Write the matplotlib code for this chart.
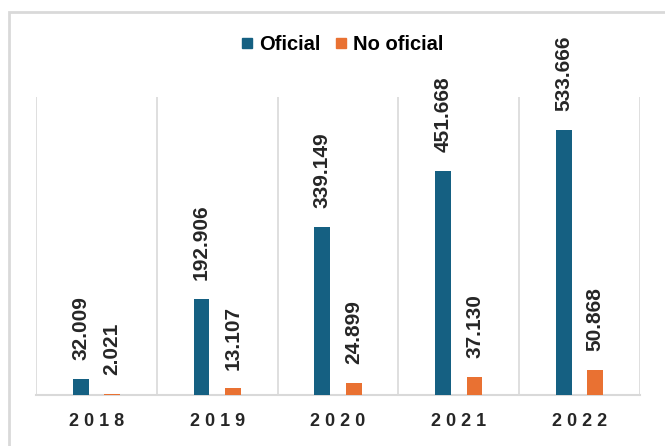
import matplotlib.pyplot as plt
import matplotlib.patches as patches
from matplotlib.lines import Line2D
import numpy as np

plt.rcParams['font.family'] = ['Liberation Sans', 'DejaVu Sans']

years = ['2018', '2019', '2020', '2021', '2022']
oficial = [32009, 192906, 339149, 451668, 533666]
no_oficial = [2021, 13107, 24899, 37130, 50868]

blue = '#156082'
orange = '#E97132'
grid = '#d9d9d9'

fig = plt.figure(figsize=(6.65, 4.46), dpi=100)
ax = fig.add_axes([36/665, 51/446, 604/665, 298/446])

x = np.arange(len(years))
w = 0.13
off = 0.13
ax.bar(x - off, oficial, w, color=blue, zorder=3)
ax.bar(x + off, no_oficial, w, color=orange, zorder=3)

def fmt(v):
    return f"{v:,}".replace(',', '.')

# etiquetas de datos, giradas
for xi, v in zip(x - off, oficial):
    ax.annotate(fmt(v), (xi, v), xytext=(0, 13.5), textcoords='offset points',
                rotation=90, ha='center', va='bottom', fontsize=15,
                fontweight='bold', color='#262626')
for xi, v in zip(x + off, no_oficial):
    ax.annotate(fmt(v), (xi, v), xytext=(0, 13.5), textcoords='offset points',
                rotation=90, ha='center', va='bottom', fontsize=15,
                fontweight='bold', color='#262626')

ax.set_xlim(-0.5, len(years) - 0.5)
ax.set_ylim(0, 600000)
for b in np.arange(-0.5, len(years), 1.0):
    ax.axvline(b, color=grid, lw=1.2, zorder=1)

for s in ['top', 'right', 'left']:
    ax.spines[s].set_visible(False)
ax.spines['bottom'].set_color(grid)
ax.spines['bottom'].set_linewidth(1.5)
ax.set_yticks([])
ax.set_xticks(x)
ax.set_xticklabels([' '.join(y) for y in years], fontsize=13, fontweight='bold',
                   color='#262626')
ax.tick_params(axis='x', length=0, pad=13)

handles = [Line2D([], [], marker='s', ls='', color=blue, markersize=6.5),
           Line2D([], [], marker='s', ls='', color=orange, markersize=6.5)]
fig.legend(handles, ['Oficial', 'No oficial'], loc='center', bbox_to_anchor=(0.512, 0.9),
           ncol=2, frameon=False, handletextpad=0.1, columnspacing=0.5,
           handlelength=1.0, prop={'size': 14.5, 'weight': 'bold'})

border = patches.Rectangle((8.5/665, -0.1), 1.2, 1.1 - 12/446, transform=fig.transFigure,
                           fill=False, edgecolor=grid, lw=2)
fig.patches.append(border)

fig.savefig('out.png', dpi=100)
